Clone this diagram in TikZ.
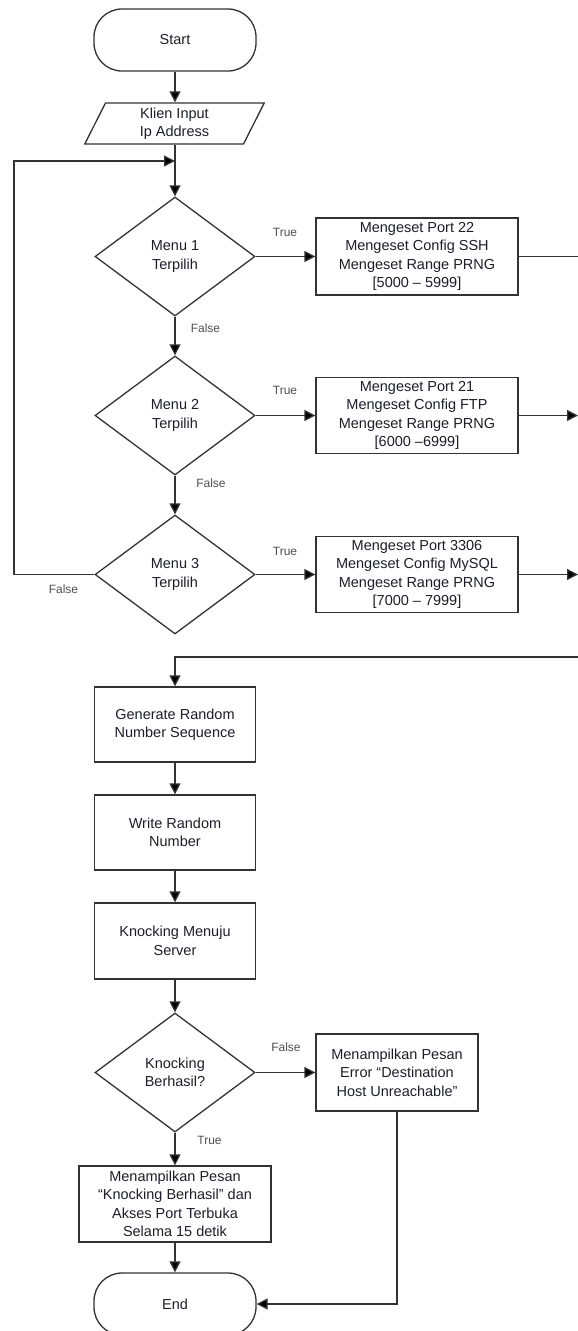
\documentclass[tikz,border=0pt]{standalone}
\usepackage{fontspec}
\setmainfont{Liberation Sans}
\usetikzlibrary{shapes.geometric,arrows.meta}
\definecolor{ln}{HTML}{333333}
\definecolor{tx}{HTML}{1E1E2A}
\definecolor{lb}{HTML}{505050}
\begin{document}
\begin{tikzpicture}[x=1pt,y=-1pt,
  every node/.style={font=\fontsize{14.5}{18.5}\selectfont, text=tx, align=center},
  proc/.style={draw=ln, line width=1.3pt, rectangle, inner sep=0pt},
  dec/.style={draw=ln, line width=1.3pt, diamond, minimum width=160pt, minimum height=119pt, inner sep=0pt},
  term/.style={draw=ln, line width=1.3pt, rectangle, rounded corners=28pt, minimum width=162pt, minimum height=62pt, inner sep=0pt},
  io/.style={draw=ln, line width=1.3pt, trapezium, trapezium left angle=72, trapezium right angle=108, trapezium stretches=true, minimum width=181pt, minimum height=41pt, inner sep=0pt},
  lbl/.style={font=\fontsize{12}{14}\selectfont, text=lb},
  flow/.style={draw=ln, line width=1.3pt, -{Triangle[length=11pt,width=11pt,fill=black]}},
  plain/.style={draw=ln, line width=1.3pt},
]
\clip (0,0) rectangle (578,1331);
\fill[white] (0,0) rectangle (578,1331);

\node[term] (start) at (175,40) {Start};
\node[io] (para) at (174.5,123.5) {Klien Input\\Ip Address};
\node[dec] (d1) at (175,256.5) {Menu 1\\Terpilih};
\node[dec] (d2) at (175,415.5) {Menu 2\\Terpilih};
\node[dec] (d3) at (175,574.5) {Menu 3\\Terpilih};
\node[proc, minimum width=202pt, minimum height=77pt] (b1) at (417,256.5) {Mengeset Port 22\\Mengeset Config SSH\\Mengeset Range PRNG\\{[5000 – 5999]}};
\node[proc, minimum width=202pt, minimum height=76pt] (b2) at (417,415.5) {Mengeset Port 21\\Mengeset Config FTP\\Mengeset Range PRNG\\{[6000 –6999]}};
\node[proc, minimum width=202pt, minimum height=76pt] (b3) at (417,574.5) {Mengeset Port 3306\\Mengeset Config MySQL\\Mengeset Range PRNG\\{[7000 – 7999]}};
\node[proc, minimum width=161pt, minimum height=75pt] (gen) at (175,724.5) {Generate Random\\Number Sequence};
\node[proc, minimum width=161pt, minimum height=75pt] (wr) at (175,832.5) {Write Random\\Number};
\node[proc, minimum width=161pt, minimum height=76pt] (kn) at (175,941) {Knocking Menuju\\Server};
\node[dec] (d4) at (175,1072.5) {Knocking\\Berhasil?};
\node[proc, minimum width=162pt, minimum height=77pt] (err) at (397,1072.5) {Menampilkan Pesan\\Error “Destination\\Host Unreachable”};
\node[proc, minimum width=192pt, minimum height=76pt] (ok) at (175,1204) {Menampilkan Pesan\\“Knocking Berhasil” dan\\Akses Port Terbuka\\Selama 15 detik};
\node[term] (end) at (175,1304) {End};

\node[lbl] (t1) at (285,232) {True};
\node[lbl] (f1) at (205.5,328) {False};
\node[lbl] (t2) at (285,390) {True};
\node[lbl] (f2) at (211,483) {False};
\node[lbl] (t3) at (285,551) {True};
\node[lbl] (f3) at (63.5,589) {False};
\node[lbl] (f4) at (286,1047) {False};
\node[lbl] (t4) at (209.5,1140) {True};

\coordinate (lp) at (14,161);
\coordinate (rx) at (578,657);

\draw[flow] (start.south) -- (start.south |- para.north);
\draw[plain] (d1.north |- para.south) -- (d1.north |- lp);
\draw[flow] (d1.north |- lp) -- (d1.north);
\draw[flow] (d3.west) -| (lp) -- (lp -| d1.north);
\draw[flow] (d1.south) -- (d2.north);
\draw[flow] (d2.south) -- (d3.north);
\draw[flow] (d1.east) -- (b1.west);
\draw[flow] (d2.east) -- (b2.west);
\draw[flow] (d3.east) -- (b3.west);
\draw[plain] (b1.east) -- (b1.east -| rx);
\draw[flow] (b2.east) -- (b2.east -| rx);
\draw[flow] (b3.east) -- (b3.east -| rx);
\draw[flow] (rx) -| (gen.north);
\draw[flow] (gen.south) -- (wr.north);
\draw[flow] (wr.south) -- (kn.north);
\draw[flow] (kn.south) -- (d4.north);
\draw[flow] (d4.east) -- (err.west);
\draw[flow] (d4.south) -- (ok.north);
\draw[flow] (ok.south) -- (end.north);
\draw[flow] (err.south) |- (end.east);
\end{tikzpicture}
\end{document}
